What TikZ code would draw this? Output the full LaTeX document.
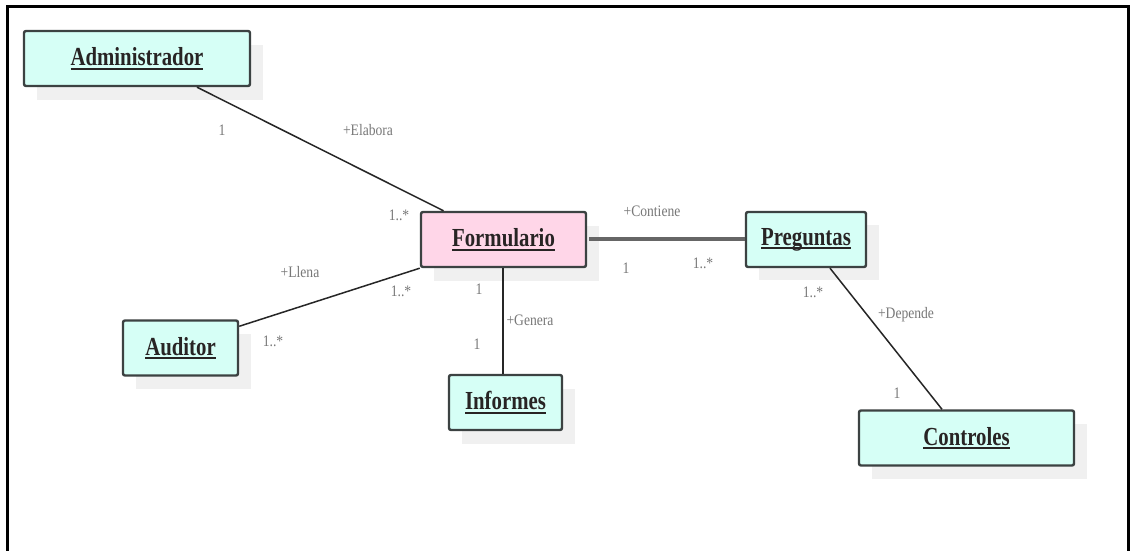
\documentclass[tikz,border=0pt]{standalone}
\usepackage{fontspec}
\setmainfont{Liberation Serif}
\newfontfamily\titlefont[FakeStretch=0.8]{Liberation Serif}
\newfontfamily\labelfont[FakeStretch=0.85]{Liberation Serif}
\newcommand\ulx[1]{\setbox0\hbox{#1}\rlap{\usebox0}\rule[-4pt]{\wd0}{1.8pt}}
\definecolor{boxfill}{RGB}{214,255,246}
\definecolor{pinkfill}{RGB}{255,214,232}
\definecolor{boxline}{RGB}{60,66,66}
\definecolor{shadowc}{RGB}{240,240,240}
\definecolor{lblc}{RGB}{120,120,120}
\definecolor{txtc}{RGB}{40,36,36}
\tikzset{
  cls/.style={draw=boxline, line width=2.4pt, rounded corners=2pt, fill=boxfill,
    minimum width=#1, minimum height=55pt, inner sep=0pt,
    text=txtc, font=\titlefont\fontsize{26}{28}\selectfont\bfseries},
  shadowbox/.style={fill=shadowc, draw=none, minimum width=#1, minimum height=55pt},
  lbl/.style={text=lblc, font=\labelfont\fontsize{16}{18}\selectfont, inner sep=0pt},
  conn/.style={draw=black!85, line width=1.5pt},
  thickconn/.style={draw=black!60, line width=4pt}
}
\begin{document}
\begin{tikzpicture}[x=1pt,y=1pt]
\useasboundingbox (0,0) rectangle (1135,551);
\fill[white] (0,0) rectangle (1135,551);
\draw[line width=3pt, black] (7,0) -- (7,544) -- (1128,544) -- (1128,0);
% shadows
\node[shadowbox=226pt] (s1) at (150,478.5) {};
\node[shadowbox=165pt] (s2) at (516.5,297.5) {};
\node[shadowbox=120pt] (s3) at (819,298) {};
\node[shadowbox=115pt] (s4) at (193.5,189) {};
\node[shadowbox=113pt] (s5) at (518.5,134.5) {};
\node[shadowbox=215pt] (s6) at (979.5,99) {};
% classes
\node[cls=226pt] (adm) at (137,492.5) {\ulx{Administrador}};
\node[cls=165pt, fill=pinkfill] (form) at (503.5,311.5) {\ulx{Formulario}};
\node[cls=120pt] (preg) at (806,311.5) {\ulx{Preguntas}};
\node[cls=115pt] (aud) at (180.5,203) {\ulx{Auditor}};
\node[cls=113pt] (inf) at (505.5,148.5) {\ulx{Informes}};
\node[cls=215pt] (ctrl) at (966.5,113) {\ulx{Controles}};
% connectors
\draw[conn] ([xshift=60pt]adm.south) -- ([xshift=-60pt]form.north);
\draw[conn] ([yshift=-7pt]aud.north east) -- (form.south west);
\draw[thickconn] ([xshift=2pt]form.east) -- (form.east -| preg.west);
\draw[conn] ([xshift=-0.5pt]form.south) -- ([xshift=-0.5pt]form.south |- inf.north);
\draw[conn] ([xshift=24pt]preg.south) -- ([xshift=-24.5pt]ctrl.north);
% labels
\node[lbl] (l1) at (222,421) {1};
\node[lbl] (l2) at (368,421) {+Elabora};
\node[lbl] (l3) at (399,336) {1..*};
\node[lbl] (l4) at (300,279) {+Llena};
\node[lbl] (l5) at (401,260) {1..*};
\node[lbl] (l6) at (273,210) {1..*};
\node[lbl] (l7) at (652,340) {+Contiene};
\node[lbl] (l8) at (626,283) {1};
\node[lbl] (l9) at (703,288) {1..*};
\node[lbl] (l10) at (479,262) {1};
\node[lbl] (l11) at (530,231) {+Genera};
\node[lbl] (l12) at (477,207) {1};
\node[lbl] (l13) at (813,259) {1..*};
\node[lbl] (l14) at (906,236) {+Depende};
\node[lbl] (l15) at (897,158) {1};
\end{tikzpicture}
\end{document}
